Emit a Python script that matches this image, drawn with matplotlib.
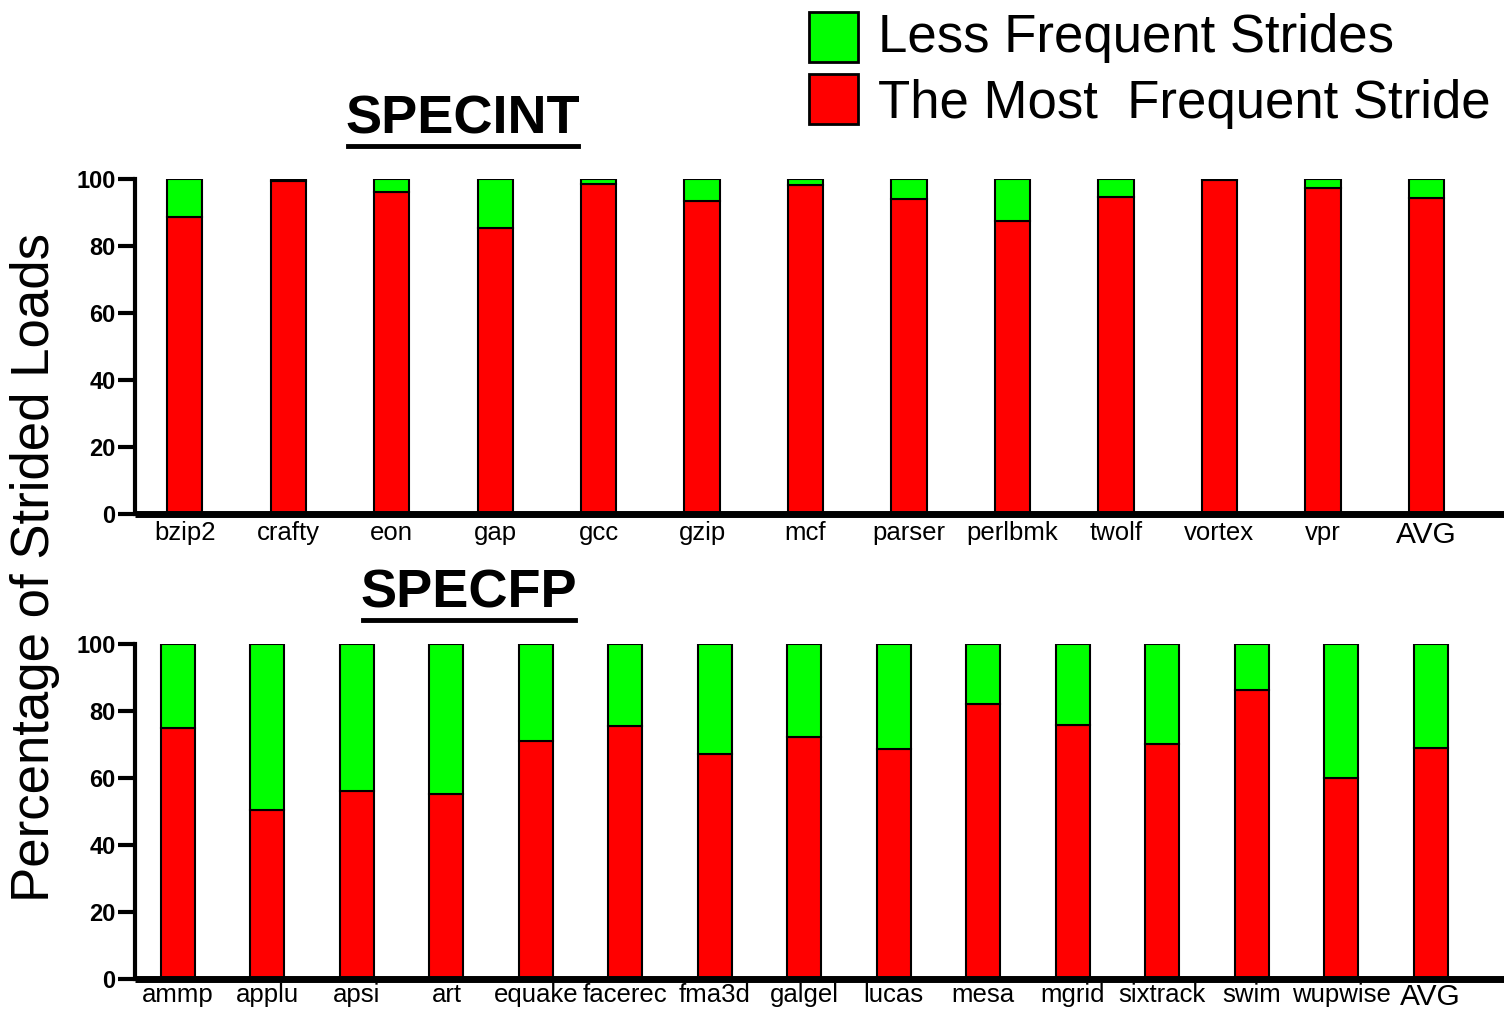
import matplotlib
matplotlib.use("Agg")
import matplotlib.pyplot as plt
import numpy as np
from matplotlib.patches import Rectangle
from matplotlib.lines import Line2D

plt.rcParams['font.family'] = ['Liberation Sans', 'DejaVu Sans']

# SPECINT data (percentage of strided loads)
int_names = ["bzip2", "crafty", "eon", "gap", "gcc", "gzip", "mcf", "parser",
             "perlbmk", "twolf", "vortex", "vpr", "AVG"]
int_most = [88.7, 99.5, 96.0, 85.5, 98.4, 93.4, 98.2, 94.0, 87.4, 94.5, 99.6, 97.4, 94.2]

# SPECFP data
fp_names = ["ammp", "applu", "apsi", "art", "equake", "facerec", "fma3d", "galgel",
            "lucas", "mesa", "mgrid", "sixtrack", "swim", "wupwise", "AVG"]
fp_most = [74.8, 50.3, 56.0, 55.1, 70.9, 75.4, 67.1, 72.2, 68.6, 82.2, 75.8, 70.0,
           86.3, 59.9, 68.8]

RED = "#ff0000"
GREEN = "#00ff00"

fig = plt.figure(figsize=(15.04, 10.11), dpi=100)


def panel(rect, names, most, width, xlim, pad):
    ax = fig.add_axes(rect)
    x = np.arange(len(names))
    most = np.array(most)
    less = 100 - most
    ax.bar(x, most, width, color=RED, edgecolor="black", linewidth=1.5)
    ax.bar(x, less, width, bottom=most, color=GREEN, edgecolor="black", linewidth=1.5)
    ax.set_xlim(*xlim)
    ax.set_ylim(0, 100)
    ax.set_yticks([0, 20, 40, 60, 80, 100])
    ax.set_xticks(x)
    ax.set_xticklabels(names, fontsize=18.5)
    # AVG label a bit bigger
    ax.get_xticklabels()[-1].set_fontsize(21.5)
    ax.tick_params(axis="x", length=0, pad=pad)
    ax.tick_params(axis="y", length=12, width=3, pad=2, labelsize=17)
    for lab in ax.get_yticklabels():
        lab.set_fontweight("bold")
    ax.spines["top"].set_visible(False)
    ax.spines["right"].set_visible(False)
    ax.spines["left"].set_linewidth(3)
    ax.spines["bottom"].set_linewidth(5)
    ax.spines["bottom"].set_capstyle("butt")
    return ax


ax1 = panel([0.0898, 0.4916, 0.9102, 0.3314], int_names, int_most, 0.34, (-0.48, 12.75), 5)
ax2 = panel([0.0898, 0.0317, 0.9102, 0.3314], fp_names, fp_most, 0.38, (-0.48, 14.82), 3)

# panel titles, underlined
fig.text(463 / 1504, 1 - 119 / 1011, "SPECINT", fontsize=39, fontweight="bold",
         ha="center", va="center")
fig.add_artist(Line2D([348 / 1504, 578 / 1504], [1 - 146 / 1011] * 2, color="black", lw=3.5))
fig.text(469 / 1504, 1 - 593 / 1011, "SPECFP", fontsize=39, fontweight="bold",
         ha="center", va="center")
fig.add_artist(Line2D([363 / 1504, 575 / 1504], [1 - 620 / 1011] * 2, color="black", lw=3.5))

# y label
fig.text(35 / 1504, 1 - 568 / 1011, "Percentage of Strided Loads", fontsize=38,
         rotation=90, ha="center", va="center")

# legend
fig.add_artist(Rectangle((809 / 1504, 1 - 62 / 1011), 49 / 1504, 50 / 1011,
                         facecolor=GREEN, edgecolor="black", lw=2, transform=fig.transFigure))
fig.add_artist(Rectangle((809 / 1504, 1 - 124 / 1011), 49 / 1504, 50 / 1011,
                         facecolor=RED, edgecolor="black", lw=2, transform=fig.transFigure))
fig.text(878 / 1504, 1 - 38 / 1011, "Less Frequent Strides", fontsize=38, va="center")
fig.text(878 / 1504, 1 - 104 / 1011, "The Most  Frequent Stride", fontsize=38, va="center")

fig.savefig("out.png", dpi=100)
